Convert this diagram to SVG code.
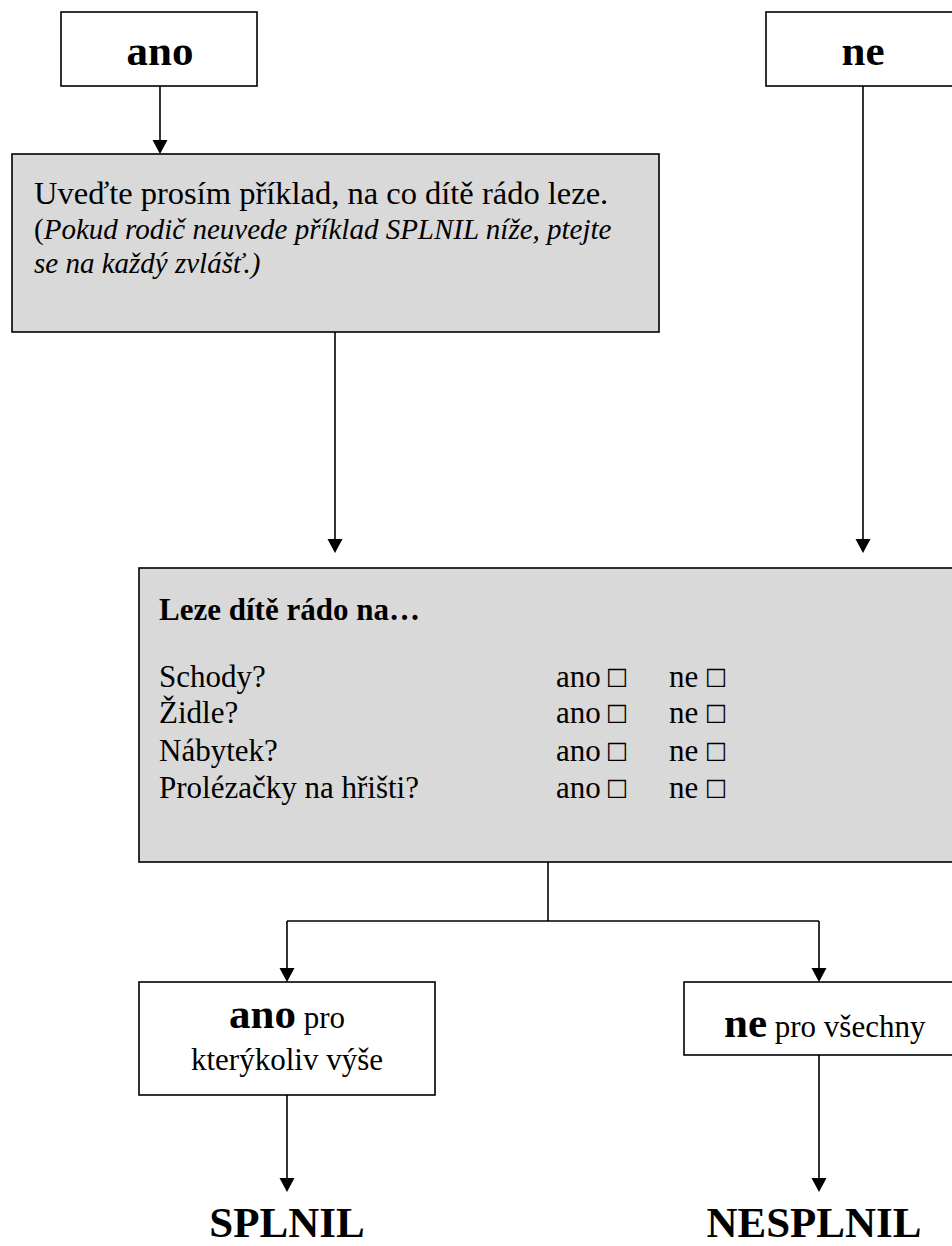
<svg xmlns="http://www.w3.org/2000/svg" width="952" height="1246" viewBox="0 0 952 1246">
<style>
  .box{fill:#ffffff;stroke:#000;stroke-width:1.6}
  .gbox{fill:#d9d9d9;stroke:#000;stroke-width:1.6}
  .conn{fill:none;stroke:#000;stroke-width:1.6}
  .t{font-family:"Liberation Serif","Times New Roman",serif;fill:#000}
  .big{font-size:43px;font-weight:bold}
  .body{font-size:31px}
  .b{font-weight:bold}
  .i{font-style:italic}
  .cb{font-family:"DejaVu Sans",sans-serif;font-size:25px;fill:#000}
</style>
<defs>
  <marker id="ah" markerUnits="userSpaceOnUse" markerWidth="16" markerHeight="16" refX="12" refY="7.5" orient="auto">
    <path d="M0,0 L14,7.5 L0,15 z" fill="#000"/>
  </marker>
</defs>
<rect width="952" height="1246" fill="#ffffff"/>

<g id="connectors">
  <line class="conn" x1="160" y1="86" x2="160" y2="152" marker-end="url(#ah)"/>
  <line class="conn" x1="335" y1="332" x2="335" y2="551" marker-end="url(#ah)"/>
  <line class="conn" x1="863" y1="86" x2="863" y2="551" marker-end="url(#ah)"/>
  <polyline class="conn" points="548,862 548,921"/>
  <polyline class="conn" points="287,921 819,921"/>
  <line class="conn" x1="287" y1="921" x2="287" y2="980" marker-end="url(#ah)"/>
  <line class="conn" x1="819" y1="921" x2="819" y2="980" marker-end="url(#ah)"/>
  <line class="conn" x1="287" y1="1095" x2="287" y2="1190" marker-end="url(#ah)"/>
  <line class="conn" x1="819" y1="1055" x2="819" y2="1190" marker-end="url(#ah)"/>
</g>

<g id="node-ano">
  <rect class="box" x="61" y="12" width="196" height="74"/>
  <text class="t big" x="160" y="65" text-anchor="middle">ano</text>
</g>

<g id="node-ne">
  <rect class="box" x="766" y="12" width="200" height="74"/>
  <text class="t big" x="863" y="65" text-anchor="middle">ne</text>
</g>

<g id="node-priklad">
  <rect class="gbox" x="12" y="154" width="647" height="178"/>
  <text class="t" x="34" y="204" font-size="32.5">Uveďte prosím příklad, na co dítě rádo leze.</text>
  <text class="t" x="34" y="239" font-size="29">(<tspan class="i">Pokud rodič neuvede příklad SPLNIL níže, ptejte</tspan></text>
  <text class="t i" x="34" y="273" font-size="29">se na každý zvlášť.)</text>
</g>

<g id="node-otazky">
  <rect class="gbox" x="139" y="568" width="830" height="294"/>
  <text class="t body b" x="159" y="620">Leze dítě rádo na…</text>
  <text class="t body" x="159" y="687">Schody?</text>
  <text class="t body" x="159" y="723">Židle?</text>
  <text class="t body" x="159" y="761">Nábytek?</text>
  <text class="t body" x="159" y="798">Prolézačky na hřišti?</text>
  <text class="t body" x="556" y="687">ano</text><text class="cb" x="606" y="687">☐</text>
  <text class="t body" x="669" y="687">ne</text><text class="cb" x="705" y="687">☐</text>
  <text class="t body" x="556" y="723">ano</text><text class="cb" x="606" y="723">☐</text>
  <text class="t body" x="669" y="723">ne</text><text class="cb" x="705" y="723">☐</text>
  <text class="t body" x="556" y="761">ano</text><text class="cb" x="606" y="761">☐</text>
  <text class="t body" x="669" y="761">ne</text><text class="cb" x="705" y="761">☐</text>
  <text class="t body" x="556" y="798">ano</text><text class="cb" x="606" y="798">☐</text>
  <text class="t body" x="669" y="798">ne</text><text class="cb" x="705" y="798">☐</text>
</g>

<g id="node-ano-pro">
  <rect class="box" x="139" y="982" width="296" height="113"/>
  <text class="t" x="287" y="1028" text-anchor="middle"><tspan class="b" font-size="43">ano</tspan><tspan font-size="31"> pro</tspan></text>
  <text class="t body" x="287" y="1070" text-anchor="middle">kterýkoliv výše</text>
</g>

<g id="node-ne-pro">
  <rect class="box" x="684" y="982" width="290" height="73"/>
  <text class="t" x="724" y="1037"><tspan class="b" font-size="43">ne</tspan><tspan font-size="31"> pro všechny</tspan></text>
</g>

<g id="node-splnil">
  <text class="t big" x="287" y="1237" text-anchor="middle">SPLNIL</text>
</g>

<g id="node-nesplnil">
  <text class="t big" x="814" y="1237" text-anchor="middle">NESPLNIL</text>
</g>
</svg>
